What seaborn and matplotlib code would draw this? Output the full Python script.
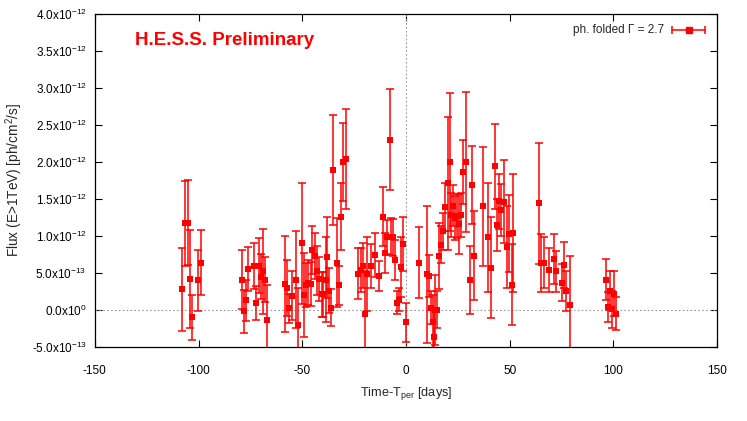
#
# Phase-folded flux light curve (H.E.S.S. preliminary) drawn with seaborn
# in the style of the original gnuplot figure
#

import matplotlib
matplotlib.use("Agg")
import matplotlib.pyplot as plt
import seaborn as sns
import pandas as pd

# days relative to periastron
days = [-108.1, -106.5, -105.0, -104.2, -103.0, -100.3, -99.0,
        -79.1, -78.1, -77.0, -76.2, -73.1, -72.1, -71.0, -70.0, -68.9, -68.0, -67.0,
        -58.3, -57.3, -56.4, -55.2, -53.1, -52.0, -50.1, -49.1, -48.3, -47.2, -46.0,
        -45.1, -44.0, -42.8, -41.9, -40.7, -39.9, -38.8, -38.0, -37.2, -36.2, -35.3,
        -33.2, -32.2, -31.3, -30.3, -29.1,
        -23.0, -21.9, -20.9, -20.0, -18.8, -16.9, -14.8, -12.9, -11.3, -10.3, -9.0,
        -7.7, -7.1, -6.1, -5.2, -4.2, -3.2, -2.3, -1.3, 0.1,
        6.1, 10.0, 11.3, 12.1, 13.2, 13.7, 14.2, 15.1, 16.1, 16.9, 18.0, 19.0, 20.1,
        21.3, 21.6, 22.9, 23.8, 24.8, 25.7, 26.7, 27.7, 28.8, 30.9, 31.9, 33.0,
        37.2, 39.3, 41.2, 42.8, 43.8, 44.8, 45.9, 47.2, 48.8, 49.9, 50.9, 51.8,
        64.3, 65.2, 66.3, 69.1, 71.2, 72.1, 75.0, 76.0, 77.0, 79.1,
        96.3, 97.3, 98.2, 99.2, 100.3, 101.3]

# flux above 1 TeV, units of 1e-12 ph/cm2/s
flux = [0.28, 1.17, 1.18, 0.42, -0.10, 0.40, 0.64,
        0.41, -0.02, 0.13, 0.55, 0.59, 0.09, 0.60, 0.45, 0.52, 0.41, -0.14,
        0.35, 0.30, 0.02, 0.19, 0.41, -0.21, 0.90, 0.20, 0.34, 0.37, 0.35,
        0.81, 0.73, 0.53, 0.42, 0.21, 0.21, 0.41, 0.71, 0.26, 0.03, 1.89,
        0.64, 0.33, 1.26, 2.00, 2.04,
        0.49, 0.54, 0.60, -0.05, 0.48, 0.59, 0.74, 0.46, 1.26, 0.77, 0.98,
        2.30, 0.99, 0.98, 0.67, 0.10, 0.14, 0.58, 0.89, -0.17,
        0.64, 0.48, 0.46, 0.03, -0.17, -0.37, 0.00, 0.00, 0.73, 0.88, 1.06, 1.39, 1.71,
        2.00, 1.28, 1.41, 1.24, 1.27, 1.16, 1.28, 1.86, 2.00, 0.41, 1.69, 0.73,
        1.40, 0.98, 0.57, 1.94, 1.15, 1.47, 1.35, 1.46, 0.85, 1.03, 0.34, 1.04,
        1.44, 0.63, 0.64, 0.54, 0.69, 0.52, 0.37, 0.61, 0.26, 0.07,
        0.41, 0.04, 0.26, 0.01, 0.22, -0.05]

fluxErr = [0.56, 0.57, 0.57, 0.66, 0.30, 0.41, 0.44,
           0.40, 0.29, 0.28, 0.30, 0.31, 0.23, 0.37, 0.30, 0.57, 0.30, 0.48,
           0.65, 0.38, 0.20, 0.33, 0.66, 0.50, 0.82, 0.57, 0.30, 0.30, 0.30,
           0.32, 0.31, 0.33, 0.30, 0.30, 0.30, 0.57, 0.55, 0.30, 0.25, 0.74,
           0.60, 0.27, 0.45, 0.53, 0.68,
           0.34, 0.30, 0.30, 0.57, 0.50, 0.30, 0.30, 0.20, 0.40, 0.27, 0.23,
           0.68, 0.25, 0.25, 0.27, 0.15, 0.15, 0.40, 0.36, 0.26,
           0.48, 0.93, 0.28, 0.22, 0.37, 0.37, 0.47, 0.25, 0.45, 0.25, 0.25, 0.32, 0.90,
           0.93, 0.30, 0.28, 0.30, 0.30, 0.41, 0.30, 0.43, 0.95, 0.46, 0.53, 0.60,
           0.80, 0.74, 0.68, 0.57, 0.35, 0.37, 0.35, 0.56, 0.56, 0.52, 0.55, 0.80,
           0.82, 0.39, 0.35, 0.30, 0.34, 0.28, 0.25, 0.31, 0.27, 0.66,
           0.28, 0.20, 0.26, 0.25, 0.30, 0.22]

xTicks = [-150, -100, -50, 0, 50, 100, 150]
yTicks = [-0.5e-12, 0.0, 0.5e-12, 1.0e-12, 1.5e-12, 2.0e-12, 2.5e-12, 3.0e-12, 3.5e-12, 4.0e-12]
yTickLabels = ["-5.0x10$^{-13}$", "0.0x10$^{0}$", "5.0x10$^{-13}$", "1.0x10$^{-12}$",
               "1.5x10$^{-12}$", "2.0x10$^{-12}$", "2.5x10$^{-12}$", "3.0x10$^{-12}$",
               "3.5x10$^{-12}$", "4.0x10$^{-12}$"]

RED = "#ff0000"


def plotLightCurve():
    df = pd.DataFrame({"day": days,
                       "flux": [f * 1e-12 for f in flux],
                       "err": [e * 1e-12 for e in fluxErr]})

    sns.set_theme(style="ticks")
    plt.rcParams["font.family"] = ["Liberation Sans", "DejaVu Sans"]
    plt.rcParams["mathtext.fontset"] = "custom"
    plt.rcParams["mathtext.rm"] = "Liberation Sans"
    plt.rcParams["mathtext.it"] = "Liberation Sans"

    fig = plt.figure(figsize=(7.47, 4.21), dpi=100)
    ax = fig.add_axes([0.127, 0.176, 0.833, 0.791])

    # dotted zero lines
    ax.axhline(0, color="#999999", lw=0.8, ls=(0, (1.5, 2)), zorder=1)
    ax.axvline(0, color="#999999", lw=0.8, ls=(0, (1.5, 2)), zorder=1)

    ax.errorbar(df["day"], df["flux"], yerr=df["err"], fmt="none",
                ecolor=RED, elinewidth=1.1, capsize=3, capthick=1.1, zorder=2)
    sns.scatterplot(data=df, x="day", y="flux", marker="s", s=22, color=RED,
                    edgecolor=RED, linewidth=0, ax=ax, zorder=3)

    ax.set_xlim(-150, 150)
    ax.set_ylim(-0.5e-12, 4.0e-12)
    ax.set_xticks(xTicks)
    ax.set_xticklabels([str(t) for t in xTicks])
    ax.set_yticks(yTicks)
    ax.set_yticklabels(yTickLabels)
    ax.tick_params(direction="in", length=5, width=0.8, top=True, right=True,
                   labelsize=8.5, colors="black", pad=6)
    ax.tick_params(axis="x", pad=13)
    for s in ax.spines.values():
        s.set_linewidth(0.9)
        s.set_color("black")

    ax.set_xlabel("Time-T$_{per}$ [days]", fontsize=9.2, labelpad=6)
    ax.set_ylabel("Flux (E>1TeV) [ph/cm$^2$/s]", fontsize=9.8, labelpad=5)

    ax.text(0.064, 0.919, "H.E.S.S. Preliminary", transform=ax.transAxes,
            color=RED, fontsize=13.5, fontweight="bold", va="center", ha="left")

    # key in gnuplot style
    ax.text(0.915, 0.952, "ph. folded \u0393 = 2.7", transform=ax.transAxes,
            fontsize=8.5, ha="right", va="center")
    ax.plot([0.928, 0.981], [0.952, 0.952], transform=ax.transAxes, color=RED,
            lw=1.1, clip_on=False)
    ax.plot([0.928, 0.981], [0.952, 0.952], transform=ax.transAxes, color=RED,
            ls="none", marker="|", markersize=6, mew=1.1, clip_on=False)
    ax.plot([0.9545], [0.952], transform=ax.transAxes, color=RED, marker="s",
            markersize=4, clip_on=False)

    fig.savefig("out.png", dpi=100)


plotLightCurve()
